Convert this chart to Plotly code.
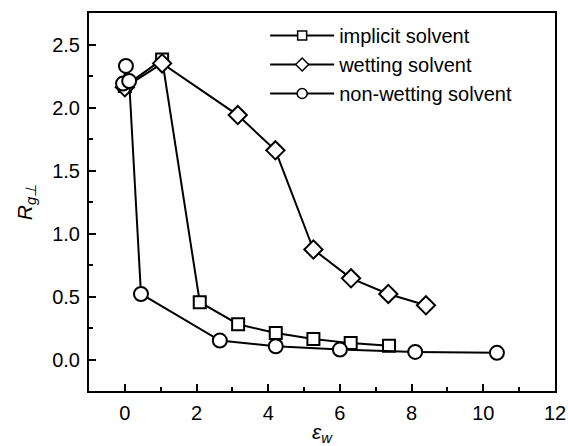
import plotly.graph_objects as go

# implicit solvent (squares)
imp_x = [0.0, 1.04, 2.09, 3.16, 4.21, 5.26, 6.3, 7.37]
imp_y = [2.17, 2.38, 0.455, 0.28, 0.21, 0.163, 0.13, 0.11]

# wetting solvent (diamonds)
wet_x = [0.0, 1.04, 3.15, 4.2, 5.26, 6.31, 7.35, 8.4]
wet_y = [2.16, 2.35, 1.94, 1.66, 0.873, 0.644, 0.52, 0.43]

# non-wetting solvent (circles)
non_x = [-0.05, 0.03, 0.12, 0.45, 2.65, 4.21, 6.0, 8.1, 10.38]
non_y = [2.19, 2.33, 2.21, 0.52, 0.15, 0.105, 0.079, 0.06, 0.053]

names = ["implicit solvent", "wetting solvent", "non-wetting solvent"]

FONT = "Liberation Sans, Arial, sans-serif"

fig = go.Figure()
series = [
    (imp_x, imp_y, "square", 12, 9, names[0]),
    (wet_x, wet_y, "diamond", 14, 10, names[1]),
    (non_x, non_y, "circle", 14, 10, names[2]),
]
for xs, ys, sym, sz, lsz, nm in series:
    fig.add_trace(go.Scatter(
        x=xs, y=ys, mode="lines+markers", name=nm, showlegend=False,
        line=dict(color="black", width=2),
        marker=dict(symbol=sym, size=sz, color="white",
                    line=dict(color="black", width=2)),
    ))
for xs, ys, sym, sz, lsz, nm in series:
    # legend entry with smaller symbol, as in the reference
    fig.add_trace(go.Scatter(
        x=[None], y=[None], mode="lines+markers", name=nm, showlegend=True,
        line=dict(color="black", width=2),
        marker=dict(symbol=sym, size=lsz, color="white",
                    line=dict(color="black", width=1.5)),
    ))

fig.update_layout(
    width=568, height=446,
    margin=dict(l=89, r=13, t=13, b=55, autoexpand=False),
    paper_bgcolor="white", plot_bgcolor="white",
    font=dict(family=FONT, size=20, color="black"),
    showlegend=True,
    legend=dict(
        x=0.378, y=0.992, xanchor="left", yanchor="top",
        bgcolor="rgba(0,0,0,0)", borderwidth=0,
        font=dict(family=FONT, size=20, color="black"),
        itemwidth=64, tracegroupgap=0,
    ),
    xaxis=dict(
        range=[-1, 12], tickvals=[0, 2, 4, 6, 8, 10, 12],
        ticks="inside", ticklen=7, tickwidth=2, tickcolor="black",
        minor=dict(ticks="inside", ticklen=4, tickwidth=2, dtick=1, tick0=0, tickcolor="black"),
        showline=True, linewidth=2, linecolor="black", mirror=True,
        showgrid=False, zeroline=False, ticklabelstandoff=3, automargin=False,
        tickfont=dict(family=FONT, size=20, color="black"),
        title=dict(text="<i>ε<sub>w</sub></i>", font=dict(family=FONT, size=21, color="black"), standoff=6),
    ),
    yaxis=dict(
        range=[-0.25, 2.75], tickvals=[0, 0.5, 1.0, 1.5, 2.0, 2.5], tickformat=".1f",
        ticks="inside", ticklen=7, tickwidth=2, tickcolor="black",
        minor=dict(ticks="inside", ticklen=4, tickwidth=2, dtick=0.25, tick0=0, tickcolor="black"),
        showline=True, linewidth=2, linecolor="black", mirror=True,
        showgrid=False, zeroline=False, ticklabelstandoff=3, automargin=False,
        tickfont=dict(family=FONT, size=20, color="black"),
        title=dict(text="<i>R<sub>g⊥</sub></i>", font=dict(family=FONT, size=21, color="black"), standoff=14),
    ),
)

fig.write_html("out.html")
